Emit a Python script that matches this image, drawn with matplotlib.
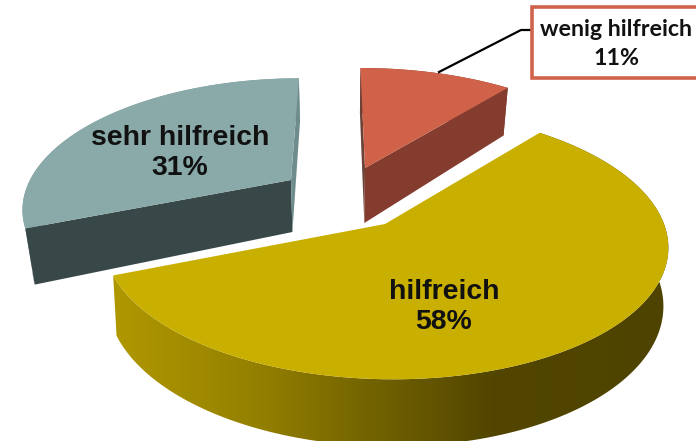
import numpy as np
import matplotlib
matplotlib.use("Agg")
import matplotlib.pyplot as plt
from matplotlib.colors import LinearSegmentedColormap
from matplotlib.patches import Polygon, Rectangle

# Data
categories = ["wenig hilfreich", "hilfreich", "sehr hilfreich"]
values = [11, 58, 31]

# Look of the slices (apex in pixels, same order as categories)
apex_x = [365, 385, 291]
apex_y = [168, 224, 180]
radius_x = [265, 279, 261]
radius_y = [120, 132, 122]
depths = [55, 57, 52]
persp = [0.2, 0.15, 0.2]
shrink = [0.975, 0.985, 0.97]
top_colors = ["#CF6249", "#C9B000", "#8AA9A9"]
rim_colors = ["#843C2E", "#4F4400", "#7D9A9A"]
start_wall = ["#6B4238", "#8F7C00", "#384747"]
end_wall = ["#843C2E", "#8F7C00", "#6F8C8C"]

first_angle = 90
vanish_x = 338

fig = plt.figure(figsize=(6.96, 4.41), dpi=100)
ax = fig.add_axes([0, 0, 1, 1])


def top_points(i, angles):
    t = np.radians(angles)
    u, v = np.cos(t), np.sin(t)
    s = 1 / (1 + persp[i] * v)
    x = vanish_x + (apex_x[i] - vanish_x) * s + radius_x[i] * u * s
    y = apex_y[i] - radius_y[i] * v * s
    return x, y, s


def bottom_points(i, angles):
    x, y, s = top_points(i, angles)
    return vanish_x + (x - vanish_x) * shrink[i], y + depths[i] * s


def apex_points(i):
    ax0, ay0 = apex_x[i], apex_y[i]
    return (ax0, ay0), (vanish_x + (ax0 - vanish_x) * shrink[i], ay0 + depths[i])


# slice angles come from the values, clockwise from the top
fractions = np.array(values) / sum(values)
ends = first_angle - 360 * np.cumsum(fractions)
starts = np.concatenate([[first_angle], ends[:-1]])

# back slices first, the big one sits in front
for i in [2, 0, 1]:
    angles = np.linspace(starts[i], ends[i], 160)
    tx, ty, _ = top_points(i, angles)
    bx, by = bottom_points(i, angles)
    rim = np.column_stack([np.r_[tx, bx[::-1]], np.r_[ty, by[::-1]]])

    if categories[i] == "hilfreich":
        # rim of the big slice has a left to right shading
        shade = LinearSegmentedColormap.from_list(
            "shade",
            [(0, "#B09800"), (0.25, "#958100"), (0.45, "#756500"),
             (0.68, "#524600"), (1, "#4E4300")],
        )
        poly = Polygon(rim, closed=True, fc="none", ec="none")
        ax.add_patch(poly)
        grad = np.linspace(0, 1, 256).reshape(1, -1)
        im = ax.imshow(grad, cmap=shade, aspect="auto",
                       extent=[tx.min(), tx.max(), 441, 100], zorder=2)
        im.set_clip_path(poly)
    else:
        ax.add_patch(Polygon(rim, closed=True, fc=rim_colors[i], ec="none", zorder=2))

        top_a, bot_a = apex_points(i)
        for ang, col in [(starts[i], start_wall[i]), (ends[i], end_wall[i])]:
            x0, y0, _ = top_points(i, np.array([ang]))
            x1, y1 = bottom_points(i, np.array([ang]))
            wall = [top_a, (x0[0], y0[0]), (x1[0], y1[0]), bot_a]
            ax.add_patch(Polygon(wall, closed=True, fc=col, ec="none", zorder=2))

    face = np.column_stack([np.r_[apex_x[i], tx], np.r_[apex_y[i], ty]])
    ax.add_patch(Polygon(face, closed=True, fc=top_colors[i], ec="none", zorder=3))

# labels
ax.text(180, 153, f"{categories[2]}\n{values[2]}%", ha="center", va="center",
        family="Liberation Sans", weight="bold", fontsize=20.4, color="#111111",
        linespacing=1.24, zorder=5)
ax.text(444, 307, f"{categories[1]}\n{values[1]}%", ha="center", va="center",
        family="Liberation Sans", weight="bold", fontsize=20.4, color="#111111",
        linespacing=1.24, zorder=5)

# callout of the small slice
ax.plot([439, 521, 532], [72, 30, 30], color="black", lw=1.6, zorder=4)
ax.add_patch(Rectangle((532, 7), 180, 71, fc="white", ec="#D0634B", lw=2.6, zorder=4))
ax.text(616, 44, f"{categories[0]}\n{values[0]}%", ha="center", va="center",
        family="Lato", weight="bold", fontsize=16.7, color="#111111",
        linespacing=1.5, zorder=5)

ax.set_xlim(0, 696)
ax.set_ylim(441, 0)
ax.axis("off")
fig.savefig("out.png", dpi=100)
